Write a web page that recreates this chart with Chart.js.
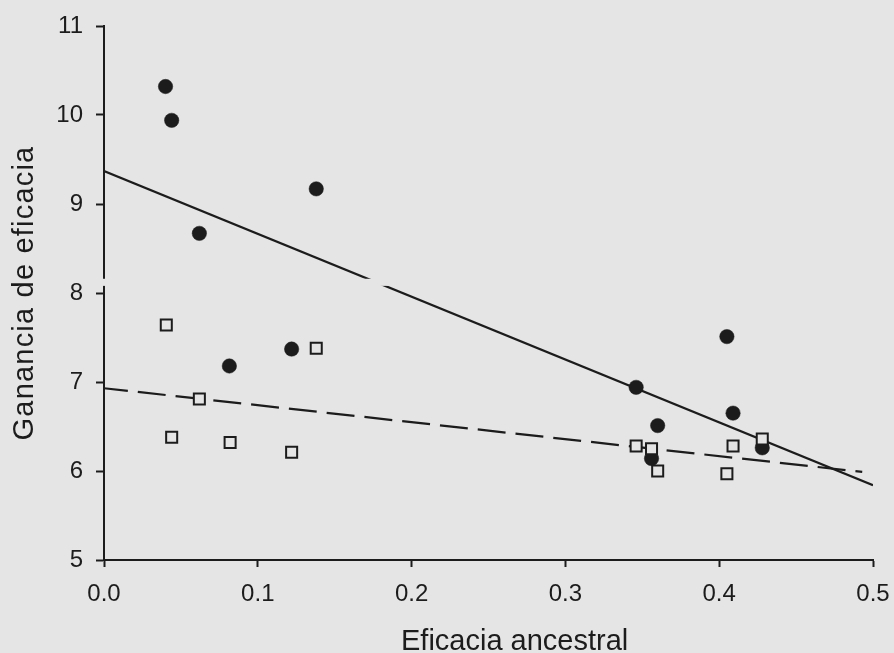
<!DOCTYPE html>
<html><head><meta charset="utf-8">
<script src="https://cdn.jsdelivr.net/npm/chart.js@4"></script>
<style>html,body{margin:0;padding:0;background:#e5e5e5;overflow:hidden}</style>
</head><body>
<canvas id="c" width="894" height="653" style="display:block;width:894px;height:653px"></canvas>
<script>
// ---- data ----
const circleX = [0.040, 0.044, 0.138, 0.062, 0.0815, 0.122, 0.405, 0.346, 0.409, 0.360, 0.356, 0.428];
const circleY = [10.32, 9.94, 9.17, 8.67, 7.18, 7.37, 7.51, 6.94, 6.65, 6.51, 6.14, 6.26];
const squareX = [0.0405, 0.138, 0.062, 0.044, 0.082, 0.122, 0.346, 0.356, 0.360, 0.409, 0.405, 0.428];
const squareY = [7.64, 7.38, 6.81, 6.38, 6.32, 6.21, 6.28, 6.25, 6.00, 6.28, 5.97, 6.36];
const solidLineX = [0, 0.5];
const solidLineY = [9.37, 5.84];
const dashedLineX = [0, 0.493];
const dashedLineY = [6.93, 5.99];
const xTickValues = [0, 0.1, 0.2, 0.3, 0.4, 0.5];
const yTickValues = [5, 6, 7, 8, 9, 10, 11];
const xTitle = 'Eficacia ancestral';
const yTitle = 'Ganancia de eficacia';

const BG = '#e5e5e5';
const INK = '#1c1c1c';
const FONT = "'Liberation Sans', Arial, sans-serif";
const pts = (xs, ys) => xs.map((x, i) => ({x, y: ys[i]}));

const bgPlugin = {
  id: 'bg',
  beforeDraw(chart) {
    const ctx = chart.ctx;
    ctx.save(); ctx.fillStyle = BG; ctx.fillRect(0, 0, chart.width, chart.height); ctx.restore();
  }
};
const decoPlugin = {
  id: 'deco',
  afterDatasetsDraw(chart) {
    const ctx = chart.ctx, xs = chart.scales.x, ys = chart.scales.y;
    // scanner break band across the y axis
    const y1 = ys.getPixelForValue(8.16), y2 = ys.getPixelForValue(8.08);
    ctx.save();
    ctx.fillStyle = BG;
    ctx.fillRect(xs.left - 3, y1, xs.getPixelForValue(0.19) - xs.left + 3, y2 - y1);
    ctx.restore();
  },
  afterDraw(chart) {
    const ctx = chart.ctx, xs = chart.scales.x, ys = chart.scales.y;
    ctx.save();
    ctx.fillStyle = INK;
    ctx.font = '29px ' + FONT;
    ctx.textAlign = 'center';
    ctx.textBaseline = 'alphabetic';
    ctx.fillText(xTitle, xs.getPixelForValue(0.267), 650);
    ctx.translate(33, (ys.top + ys.bottom) / 2);
    ctx.rotate(-Math.PI / 2);
    if ('letterSpacing' in ctx) ctx.letterSpacing = '1.2px';
    ctx.fillText(yTitle, 0, 0);
    ctx.restore();
  }
};

new Chart(document.getElementById('c'), {
  type: 'scatter',
  data: {
    datasets: [
      { data: pts(solidLineX, solidLineY), showLine: true, borderColor: INK, borderWidth: 2.2,
        pointRadius: 0, order: 3 },
      { data: pts(dashedLineX, dashedLineY), showLine: true, borderColor: INK, borderWidth: 2.2,
        borderDash: [28, 10], borderDashOffset: 4, pointRadius: 0, order: 3 },
      { data: pts(squareX, squareY), pointStyle: 'rect', pointRadius: 7.8, backgroundColor: BG,
        borderColor: INK, borderWidth: 2, order: 1 },
      { data: pts(circleX, circleY), pointStyle: 'circle', pointRadius: 7.2, backgroundColor: INK,
        borderColor: INK, borderWidth: 0.5, order: 2 }
    ]
  },
  options: {
    responsive: false,
    animation: false,
    events: [],
    layout: { padding: { left: 0, right: 21, top: 26, bottom: 0 } },
    plugins: { legend: { display: false }, tooltip: { enabled: false } },
    scales: {
      x: {
        type: 'linear', min: 0, max: 0.5,
        afterBuildTicks: s => { s.ticks = xTickValues.map(v => ({value: v})); },
        afterFit: s => { s.height = 93; s.paddingLeft = 0; s.paddingRight = 0; },
        ticks: { color: INK, font: { family: FONT, size: 24 }, padding: 13,
                 callback: v => Number(v).toFixed(1) },
        grid: { display: true, drawOnChartArea: false, drawTicks: true, tickLength: 7,
                color: INK, tickWidth: 2 },
        border: { display: true, color: INK, width: 2 }
      },
      y: {
        type: 'linear', min: 5, max: 11,
        afterBuildTicks: s => { s.ticks = yTickValues.map(v => ({value: v})); },
        afterFit: s => { s.width = 104; s.paddingTop = 0; s.paddingBottom = 0; },
        ticks: { color: INK, font: { family: FONT, size: 24 }, padding: 13,
                 callback: v => String(v) },
        grid: { display: true, drawOnChartArea: false, drawTicks: true, tickLength: 8,
                color: INK, tickWidth: 2 },
        border: { display: true, color: INK, width: 2 }
      }
    }
  },
  plugins: [bgPlugin, decoPlugin]
});
</script>
</body></html>
